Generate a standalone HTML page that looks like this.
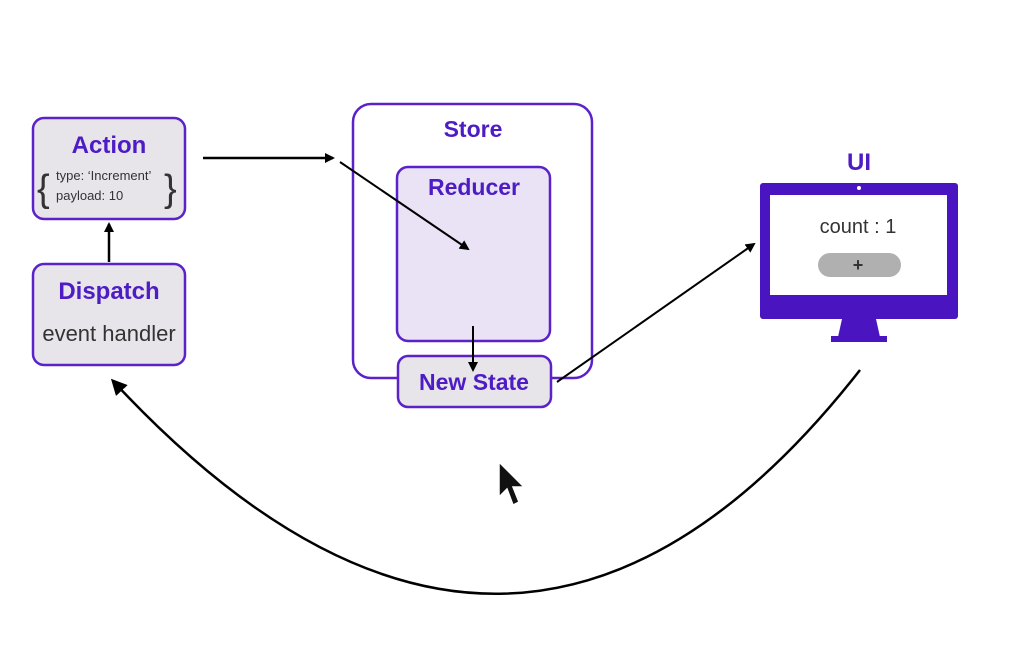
<!DOCTYPE html>
<html><head><style>
body{margin:0;background:#fff;width:1024px;height:666px;overflow:hidden}
svg{display:block}
.t{font-family:"Liberation Sans",sans-serif;font-weight:bold;fill:#4d1cc4}
.s{font-family:"Liberation Sans",sans-serif;fill:#333}
</style></head><body>
<svg width="1024" height="666" viewBox="0 0 1024 666">
<defs><marker id="a" markerWidth="10" markerHeight="10" refX="8" refY="5" orient="auto" markerUnits="userSpaceOnUse"><path d="M0,0 L10,5 L0,10 z" fill="#000"/></marker>
<marker id="b" markerWidth="16" markerHeight="16" refX="13" refY="8" orient="auto" markerUnits="userSpaceOnUse"><path d="M0,0 L16,8 L0,16 z" fill="#000"/></marker></defs>
<rect x="33" y="118" width="152" height="101" rx="11" fill="#e7e4ea" stroke="#5a22c8" stroke-width="2.5"/>
<text x="109" y="153" class="t" font-size="24" text-anchor="middle">Action</text>
<text x="37" y="201" class="s" font-size="38">{</text>
<text x="164" y="201" class="s" font-size="38">}</text>
<text x="56" y="180" class="s" font-size="13">type: ‘Increment’</text>
<text x="56" y="200" class="s" font-size="13">payload: 10</text>
<rect x="33" y="264" width="152" height="101" rx="11" fill="#e7e4ea" stroke="#5a22c8" stroke-width="2.5"/>
<text x="109" y="299" class="t" font-size="24" text-anchor="middle">Dispatch</text>
<text x="109" y="341" class="s" font-size="22" text-anchor="middle">event handler</text>
<line x1="109" y1="262" x2="109" y2="224" stroke="#000" stroke-width="2.5" marker-end="url(#a)"/>
<rect x="353" y="104" width="239" height="274" rx="18" fill="#fff" stroke="#5a22c8" stroke-width="2.5"/>
<text x="473" y="137" class="t" font-size="23" text-anchor="middle">Store</text>
<rect x="397" y="167" width="153" height="174" rx="11" fill="#e9e3f5" stroke="#5a22c8" stroke-width="2.5"/>
<text x="474" y="195" class="t" font-size="23" text-anchor="middle">Reducer</text>
<rect x="398" y="356" width="153" height="51" rx="10" fill="#e7e4ea" stroke="#5a22c8" stroke-width="2.5"/>
<text x="474" y="390" class="t" font-size="23" text-anchor="middle">New State</text>
<line x1="203" y1="158" x2="333" y2="158" stroke="#000" stroke-width="2.5" marker-end="url(#a)"/>
<line x1="340" y1="162" x2="468" y2="249" stroke="#000" stroke-width="2" marker-end="url(#a)"/>
<line x1="473" y1="326" x2="473" y2="370" stroke="#000" stroke-width="2" marker-end="url(#a)"/>
<line x1="557" y1="382" x2="754" y2="244" stroke="#000" stroke-width="2" marker-end="url(#a)"/>
<path d="M860,370 Q514,812 113,381" fill="none" stroke="#000" stroke-width="2.5" marker-end="url(#b)"/>
<text x="859" y="170" class="t" font-size="24" text-anchor="middle">UI</text>
<rect x="760" y="183" width="198" height="136" rx="3" fill="#4a14c0"/>
<rect x="770" y="195" width="177" height="100" fill="#fff"/>
<circle cx="859" cy="188" r="2" fill="#fff"/>
<path d="M842,319 L876,319 L880,337 L838,337 z" fill="#4a14c0"/>
<rect x="831" y="336" width="56" height="6" fill="#4a14c0"/>
<text x="858" y="233" class="s" font-size="20" text-anchor="middle">count : 1</text>
<rect x="818" y="253" width="83" height="24" rx="12" fill="#b0b0b0"/>
<text x="858" y="271" class="s" font-size="18" font-weight="bold" text-anchor="middle">+</text>
<path d="M499,462 L499,497 L507,489 L513,505 L519,502 L513,487 L524,487 z" fill="#111" stroke="#fff" stroke-width="1.5"/>
</svg>
</body></html>
